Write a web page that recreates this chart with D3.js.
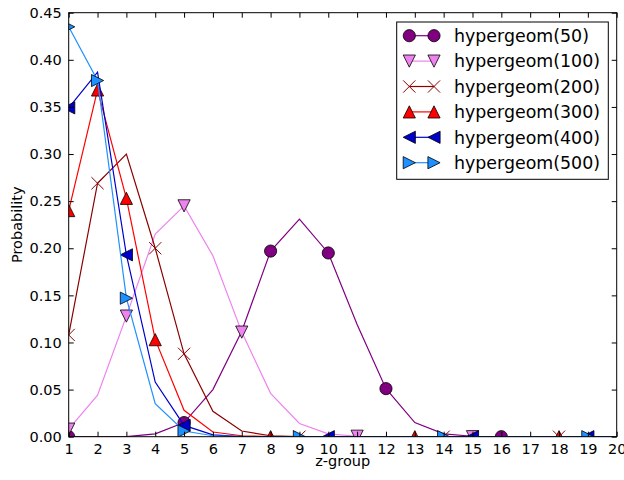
<!DOCTYPE html>
<html>
<head>
<meta charset="utf-8">
<script src="https://cdn.jsdelivr.net/npm/d3@7"></script>
<style>
  html, body { margin: 0; padding: 0; background: #fff; }
  svg { display: block; font-family: "DejaVu Sans", sans-serif; }
</style>
</head>
<body>
<svg id="chart" width="624" height="480"></svg>
<script>
// z-groups 1..20
const zGroups = d3.range(1, 21);

// probability per z-group for each hypergeometric model
const hyper50  = [0, 0, 0, 0.003, 0.015, 0.050, 0.112, 0.197, 0.231, 0.195, 0.119, 0.051, 0.015, 0.003, 0.0005, 0, 0, 0, 0, 0];
const hyper100 = [0.008, 0.044, 0.128, 0.215, 0.245, 0.192, 0.111, 0.046, 0.014, 0.003, 0.0005, 0, 0, 0, 0, 0, 0, 0, 0, 0];
const hyper200 = [0.108, 0.269, 0.300, 0.200, 0.088, 0.027, 0.006, 0.001, 0, 0, 0, 0, 0, 0, 0, 0, 0, 0, 0, 0];
const hyper300 = [0.240, 0.368, 0.253, 0.103, 0.028, 0.005, 0.001, 0, 0, 0, 0, 0, 0, 0, 0, 0, 0, 0, 0, 0];
const hyper400 = [0.349, 0.387, 0.193, 0.058, 0.012, 0.002, 0, 0, 0, 0, 0, 0, 0, 0, 0, 0, 0, 0, 0, 0];
const hyper500 = [0.435, 0.378, 0.147, 0.035, 0.006, 0.001, 0, 0, 0, 0, 0, 0, 0, 0, 0, 0, 0, 0, 0, 0];

// z-groups that carry a marker on each curve
const marks50  = [1, 5, 8, 10, 12, 16];
const marks100 = [1, 3, 5, 7, 11, 15];
const marks200 = [1, 2, 4, 5, 9, 14, 18];
const marks300 = [1, 2, 3, 4, 8, 13, 18];
const marks400 = [1, 3, 5, 10, 15, 19];
const marks500 = [1, 2, 3, 5, 9, 14, 19];

const seriesNames = ["hypergeom(50)", "hypergeom(100)", "hypergeom(200)", "hypergeom(300)", "hypergeom(400)", "hypergeom(500)"];
const xTickLabels = d3.range(1, 21);
const yTickValues = [0, 0.05, 0.10, 0.15, 0.20, 0.25, 0.30, 0.35, 0.40, 0.45];

const series = [
  { name: seriesNames[0], values: hyper50,  marks: marks50,  color: "#800080", shape: "circle" },
  { name: seriesNames[1], values: hyper100, marks: marks100, color: "#EE82EE", shape: "tri-down" },
  { name: seriesNames[2], values: hyper200, marks: marks200, color: "#8B0000", shape: "x" },
  { name: seriesNames[3], values: hyper300, marks: marks300, color: "#FF0000", shape: "tri-up" },
  { name: seriesNames[4], values: hyper400, marks: marks400, color: "#0000CD", shape: "tri-left" },
  { name: seriesNames[5], values: hyper500, marks: marks500, color: "#1E90FF", shape: "tri-right" }
];

const svg = d3.select("#chart");
const m = { left: 68.7, right: 616.7, top: 12.7, bottom: 436.7 };

const x = d3.scaleLinear().domain([1, 20]).range([m.left, m.right]);
const y = d3.scaleLinear().domain([0, 0.45]).range([m.bottom, m.top]);

svg.append("defs").append("clipPath").attr("id", "plotClip")
  .append("rect")
  .attr("x", m.left).attr("y", m.top)
  .attr("width", m.right - m.left).attr("height", m.bottom - m.top);

// marker path generator, centred at 0,0
const R = 6.1;
function markerPath(shape) {
  switch (shape) {
    case "circle":
      return `M${R},0A${R},${R} 0 1,1 ${-R},0A${R},${R} 0 1,1 ${R},0Z`;
    case "tri-up":
      return `M0,${-R}L${R},${R}L${-R},${R}Z`;
    case "tri-down":
      return `M0,${R}L${R},${-R}L${-R},${-R}Z`;
    case "tri-left":
      return `M${-R},0L${R},${-R}L${R},${R}Z`;
    case "tri-right":
      return `M${R},0L${-R},${-R}L${-R},${R}Z`;
    case "x":
      return `M${-R},${-R}L${R},${R}M${-R},${R}L${R},${-R}`;
  }
}
function styleMarker(sel, s) {
  if (s.shape === "x") {
    sel.attr("fill", "none").attr("stroke", s.color).attr("stroke-width", 1);
  } else {
    sel.attr("fill", s.color).attr("stroke", "#000").attr("stroke-width", 0.8);
  }
}

const plot = svg.append("g").attr("clip-path", "url(#plotClip)");
const line = d3.line().x((d, i) => x(zGroups[i])).y(d => y(d));

series.forEach(s => {
  plot.append("path")
    .datum(s.values)
    .attr("fill", "none")
    .attr("stroke", s.color)
    .attr("stroke-width", 1.2)
    .attr("stroke-linejoin", "miter")
    .attr("d", line);
  plot.selectAll(null)
    .data(s.marks)
    .enter().append("path")
    .attr("transform", z => `translate(${x(z)},${y(s.values[z - 1])})`)
    .attr("d", markerPath(s.shape))
    .call(styleMarker, s);
});

// axes: ticks pointing inwards on all four sides
const tickLen = 5;
const fontSize = 14.5;
const axB = svg.append("g").attr("transform", `translate(0,${m.bottom})`)
  .call(d3.axisBottom(x).tickValues(xTickLabels).tickFormat(d3.format("d")).tickSizeInner(-tickLen).tickSizeOuter(0).tickPadding(7));
const axT = svg.append("g").attr("transform", `translate(0,${m.top})`)
  .call(d3.axisTop(x).tickValues(xTickLabels).tickFormat("").tickSizeInner(-tickLen).tickSizeOuter(0));
const axL = svg.append("g").attr("transform", `translate(${m.left},0)`)
  .call(d3.axisLeft(y).tickValues(yTickValues).tickFormat(d3.format(".2f")).tickSizeInner(-tickLen).tickSizeOuter(0).tickPadding(7));
const axR = svg.append("g").attr("transform", `translate(${m.right},0)`)
  .call(d3.axisRight(y).tickValues(yTickValues).tickFormat("").tickSizeInner(-tickLen).tickSizeOuter(0));

[axB, axT, axL, axR].forEach(a => {
  a.select(".domain").remove();
  a.selectAll(".tick line").attr("stroke", "#000").attr("stroke-width", 1);
  a.selectAll("text").attr("fill", "#000").style("font-size", fontSize + "px")
    .style("font-family", "DejaVu Sans, sans-serif");
});

svg.append("rect")
  .attr("x", m.left).attr("y", m.top)
  .attr("width", m.right - m.left).attr("height", m.bottom - m.top)
  .attr("fill", "none").attr("stroke", "#000").attr("stroke-width", 1);

svg.append("text")
  .attr("x", (m.left + m.right) / 2).attr("y", 466)
  .attr("text-anchor", "middle")
  .style("font-size", fontSize + "px")
  .text("z-group");

svg.append("text")
  .attr("transform", `translate(22,${(m.top + m.bottom) / 2}) rotate(-90)`)
  .attr("text-anchor", "middle")
  .style("font-size", fontSize + "px")
  .text("Probability");

// legend
const lg = svg.append("g");
lg.append("rect")
  .attr("x", 396.7).attr("y", 22)
  .attr("width", 211.6).attr("height", 157.3)
  .attr("fill", "#fff").attr("stroke", "#000").attr("stroke-width", 1);

series.forEach((s, i) => {
  const cy = 35.7 + i * 25.4;
  const row = lg.append("g");
  row.append("line")
    .attr("x1", 409.3).attr("x2", 434).attr("y1", cy).attr("y2", cy)
    .attr("stroke", s.color).attr("stroke-width", 1.2);
  [409.3, 434].forEach(mx => {
    row.append("path")
      .attr("transform", `translate(${mx},${cy})`)
      .attr("d", markerPath(s.shape))
      .call(styleMarker, s);
  });
  row.append("text")
    .attr("x", 454).attr("y", cy + 6.2)
    .style("font-size", "17.4px")
    .text(s.name);
});
</script>
</body>
</html>
